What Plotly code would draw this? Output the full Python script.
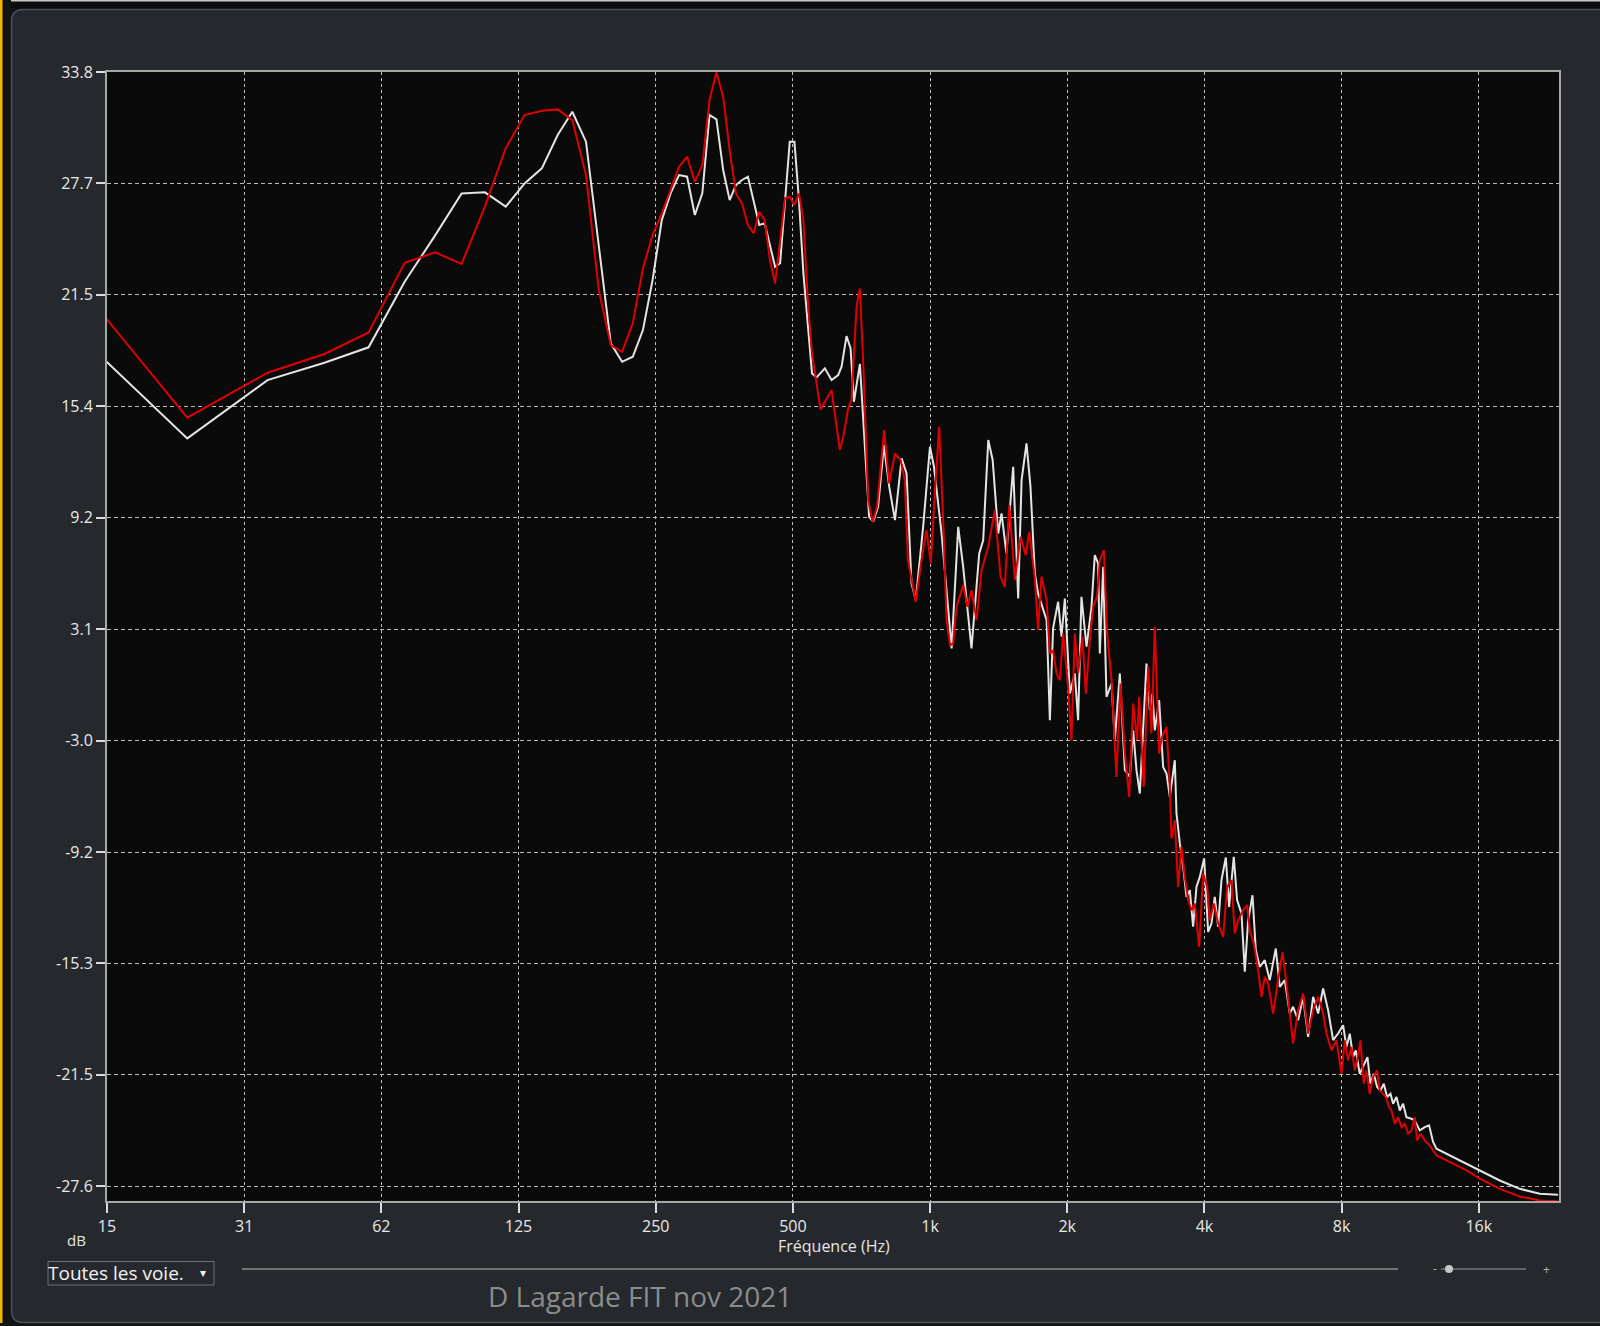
import plotly.graph_objects as go

# ---------------- data ----------------
low_freq = [11.72, 23.44, 35.16, 46.88, 58.59, 70.31, 82.03, 93.75, 105.47, 117.19,
            128.91, 140.63, 152.34, 164.06, 175.78, 187.5, 199.22, 210.94, 222.66, 234.38,
            246.09, 257.81, 269.53, 281.25, 292.97, 304.69, 316.41, 328.13, 339.84, 351.56,
            363.28, 375.0, 386.72, 398.44, 410.16, 421.88, 433.59, 445.31, 457.03, 468.75,
            480.47, 492.19, 503.91, 515.63, 527.34, 539.06, 550.78]

white_low_db = [20.8, 13.61, 16.82, 17.78, 18.63, 22.24, 24.8, 27.1, 27.17, 26.38,
                27.66, 28.49, 30.33, 31.61, 29.96, 24.17, 18.85, 17.83, 18.11, 19.58,
                22.34, 25.64, 27.11, 28.12, 28.03, 25.92, 27.11, 31.43, 31.19, 28.4,
                26.74, 27.57, 27.85, 28.03, 26.74, 25.37, 25.46, 24.17, 23.07, 23.26,
                26.56, 29.96, 29.96, 26.74, 22.7, 19.76, 17.19]

red_low_db = [24.0, 14.75, 17.23, 18.26, 19.45, 23.29, 23.86, 23.22, 26.38, 29.6,
              31.43, 31.67, 31.74, 31.15, 28.12, 21.78, 18.75, 18.38, 19.95, 22.98,
              24.82, 26.01, 27.3, 28.58, 29.13, 27.75, 28.67, 32.26, 33.78, 32.44,
              29.5, 27.11, 26.56, 25.37, 24.91, 26.1, 25.64, 23.44, 22.15, 24.36,
              26.84, 26.93, 26.47, 27.11, 25.64, 21.23, 18.29]

white_high_freq = [563.6, 587.6, 608, 628.6, 639.5, 655.6, 669.3, 680.6, 701.5, 713,
                   735, 750, 769, 792, 813.5, 837.6, 866, 888, 910.5, 930.3,
                   965.6, 999.5, 1020, 1060, 1087, 1115, 1153, 1182, 1233, 1282,
                   1308, 1342, 1372, 1411, 1435, 1471, 1522, 1561, 1588, 1628,
                   1661, 1698, 1726, 1771, 1802, 1832, 1862, 1910, 1943, 1976,
                   2027, 2078, 2113, 2149, 2205, 2261, 2299, 2338, 2358, 2398,
                   2439, 2502, 2544, 2609, 2676, 2744, 2791, 2838, 2886, 2985,
                   3036, 3077, 3113, 3182, 3247, 3303, 3359, 3444, 3474, 3533,
                   3593, 3654, 3716, 3778, 3843, 3908, 3995, 4076, 4145, 4215,
                   4287, 4360, 4457, 4532, 4640, 4719, 4824, 4906, 4989, 5100,
                   5186, 5292, 5427, 5566, 5737, 5855, 6004, 6158, 6262, 6423,
                   6587, 6756, 6929, 7106, 7288, 7474, 7665, 7861, 8062, 8199,
                   8338, 8480, 8595, 8770, 8919, 9117, 9256, 9413, 9573, 9736,
                   9902, 10070, 10241, 10380, 10556, 10735, 10917, 11102, 11386, 11579,
                   11876, 12179, 12448, 12703, 12920, 13590, 15035, 16082, 17791, 19683,
                   21776, 23888]

white_high_db = [16.97, 17.47, 16.83, 17.1, 17.56, 19.25, 18.57, 15.63, 17.71, 14.99,
                 9.29, 9.02, 9.84, 13.24, 10.95, 9.11, 12.51, 11.68, 5.62, 4.7,
                 8.74, 13.15, 12.05, 8.37, 5.07, 2.04, 8.74, 6.54, 2.04, 7.27,
                 8.0, 13.52, 12.42, 8.37, 9.48, 7.27, 12.05, 4.79, 11.31, 13.34,
                 10.95, 6.17, 5.07, 4.15, 3.6, -1.92, 3.14, 4.61, 2.68, 4.79,
                 -0.45, 0.66, -1.92, 4.88, 2.13, 4.33, 7.18, 6.72, 1.76, 6.54,
                 -0.63, 0.1, -3.02, 0.66, -4.67, -5.04, -2.47, -4.67, -5.96, 1.21,
                 -1.36, -0.45, -2.47, -0.81, -4.49, -4.86, -6.14, -4.12, -7.06, -8.71,
                 -10.0, -11.65, -11.28, -13.3, -11.1, -10.55, -9.54, -13.58, -13.12, -11.65,
                 -13.3, -10.73, -9.48, -12.2, -9.45, -11.83, -12.57, -15.78, -12.94, -11.56,
                 -14.59, -15.51, -15.14, -16.24, -14.5, -16.61, -16.24, -18.08, -17.71, -18.45,
                 -17.16, -19.37, -17.16, -18.08, -16.7, -17.9, -19.55, -19.18, -18.72, -19.93,
                 -19.19, -20.48, -20.11, -21.4, -21.03, -20.48, -21.95, -21.4, -22.13, -22.32,
                 -21.95, -22.68, -22.5, -23.05, -22.68, -23.42, -23.05, -23.79, -23.88, -23.97,
                 -24.52, -24.34, -24.24, -25.16, -25.53, -25.81, -26.36, -26.76, -27.28, -27.74,
                 -28.01, -28.07]

red_high_freq = [575, 608, 634, 645, 661, 672, 689.8, 701.5, 713, 731.6,
                 748, 765, 793, 813.5, 837.6, 861.6, 880.5, 894, 930.3, 957.8,
                 982, 1004, 1024.5, 1047, 1068.6, 1087, 1106, 1124, 1143, 1182,
                 1208, 1233, 1265, 1297, 1342, 1387, 1428, 1459, 1492, 1535,
                 1580, 1622, 1650, 1698, 1726, 1756, 1802, 1832, 1862, 1895,
                 1926, 1959, 2009, 2043, 2078, 2113, 2160, 2197, 2242, 2280,
                 2326, 2358, 2407, 2447, 2502, 2565, 2618, 2676, 2735, 2791,
                 2847, 2876, 2944, 3010, 3061, 3113, 3182, 3220, 3303, 3359,
                 3386, 3444, 3503, 3563, 3623, 3684, 3748, 3811, 3895, 3974,
                 4056, 4111, 4195, 4287, 4397, 4487, 4586, 4664, 4743, 4864,
                 4964, 5031, 5134, 5248, 5337, 5427, 5519, 5660, 5805, 5935,
                 6056, 6262, 6423, 6587, 6756, 6929, 7106, 7288, 7412, 7601,
                 7795, 7995, 8130, 8269, 8409, 8552, 8654, 8800, 8950, 9071,
                 9225, 9382, 9573, 9703, 9868, 10002, 10172, 10293, 10468, 10646,
                 10826, 11010, 11197, 11386, 11579, 11716, 11915, 12179, 12491, 12920,
                 13590, 15035, 16082, 17791, 19683, 21776, 23888]

red_high_db = [15.2, 16.27, 12.97, 13.7, 15.26, 15.72, 20.87, 21.88, 17.93, 10.21,
               9.02, 9.84, 14.07, 11.13, 12.78, 12.42, 11.31, 6.9, 4.61, 6.9,
               8.56, 6.72, 10.58, 14.25, 9.11, 3.6, 2.22, 2.31, 4.33, 5.53,
               4.33, 5.25, 3.6, 6.35, 7.64, 9.66, 5.99, 5.43, 9.94, 5.8,
               8.19, 7.18, 8.47, 5.9, 3.05, 5.99, 4.7, 1.76, 1.94, 0.66,
               0.29, 2.86, -0.08, -3.02, 2.86, 0.66, 2.68, -0.45, 2.49, 4.33,
               4.88, 6.9, 7.45, 2.86, 0.29, -5.04, 0.1, -3.75, -6.14, -1.0,
               -3.02, -0.63, -5.59, 1.02, -2.65, 3.23, -3.75, -2.93, -2.28, -5.59,
               -8.44, -7.42, -11.1, -8.89, -10.55, -11.83, -12.39, -12.02, -14.41, -10.36,
               -11.1, -12.94, -12.02, -13.12, -13.86, -11.1, -10.73, -13.67, -12.94, -12.39,
               -12.11, -13.49, -14.22, -15.69, -17.16, -16.06, -16.43, -18.08, -16.24, -14.68,
               -16.43, -19.73, -17.9, -16.98, -19.18, -17.9, -17.16, -18.08, -19.18, -20.1,
               -19.55, -21.39, -19.56, -20.66, -19.93, -21.21, -20.66, -19.56, -21.95, -21.21,
               -22.5, -21.58, -21.21, -22.32, -22.5, -22.68, -23.23, -23.42, -24.15, -23.79,
               -24.34, -24.15, -24.7, -24.52, -23.79, -25.07, -24.7, -25.07, -25.35, -25.9,
               -26.17, -26.72, -27.18, -27.74, -28.16, -28.38, -28.42]

x_tick_vals = [15.625, 31.25, 62.5, 125, 250, 500, 1000, 2000, 4000, 8000, 16000]
x_tick_text = ["15", "31", "62", "125", "250", "500", "1k", "2k", "4k", "8k", "16k"]
y_tick_vals = [33.8, 27.66, 21.52, 15.38, 9.24, 3.1, -3.04, -9.18, -15.32, -21.46, -27.6]
y_tick_text = ["33.8", "27.7", "21.5", "15.4", "9.2", "3.1", "-3.0", "-9.2", "-15.3", "-21.5", "-27.6"]

white_freq = low_freq + white_high_freq
white_db = white_low_db + white_high_db
red_freq = low_freq + red_high_freq
red_db = red_low_db + red_high_db

# ---------------- layout geometry ----------------
W, H = 1600, 1326
L, R, T, B = 107, 41, 72, 125
PW, PH = W - L - R, H - T - B


def px(x):
    return (x - L) / PW


def py(y):
    return 1 - (y - T) / PH


FONT = "Open Sans"

fig = go.Figure()
fig.add_trace(go.Scatter(x=white_freq, y=white_db, mode="lines",
                         line=dict(color="#e4e4e4", width=2), hoverinfo="skip"))
fig.add_trace(go.Scatter(x=red_freq, y=red_db, mode="lines",
                         line=dict(color="#e00000", width=2), hoverinfo="skip"))

shapes = []
# outer frame pieces
shapes.append(dict(type="rect", xref="paper", yref="paper", x0=px(0), x1=px(W), y0=py(0), y1=py(9),
                   fillcolor="#0c0c0d", line=dict(width=0), layer="above"))
shapes.append(dict(type="line", xref="paper", yref="paper", x0=px(0), x1=px(W), y0=py(0.8), y1=py(0.8),
                   line=dict(color="#c8c8c8", width=1.5), layer="above"))
shapes.append(dict(type="rect", xref="paper", yref="paper", x0=px(0), x1=px(11), y0=py(0), y1=py(H),
                   fillcolor="#111315", line=dict(width=0), layer="above"))
shapes.append(dict(type="rect", xref="paper", yref="paper", x0=px(0), x1=px(2.5), y0=py(0), y1=py(H),
                   fillcolor="#f2b300", line=dict(width=0), layer="above"))
shapes.append(dict(type="rect", xref="paper", yref="paper", x0=px(0), x1=px(W), y0=py(1323), y1=py(H),
                   fillcolor="#111315", line=dict(width=0), layer="above"))
# rounded corners fill
shapes.append(dict(type="path", xref="paper", yref="paper",
                   path=(f"M {px(10)},{py(8)} L {px(24)},{py(8)} L {px(23.5)},{py(9.5)} "
                         f"Q {px(11.5)},{py(9.5)} {px(11.5)},{py(21.5)} L {px(10)},{py(22)} Z"),
                   fillcolor="#111315", line=dict(width=0), layer="above"))
shapes.append(dict(type="path", xref="paper", yref="paper",
                   path=(f"M {px(10)},{py(1324)} L {px(24)},{py(1324)} L {px(23.5)},{py(1322.5)} "
                         f"Q {px(11.5)},{py(1322.5)} {px(11.5)},{py(1310.5)} L {px(10)},{py(1310)} Z"),
                   fillcolor="#111315", line=dict(width=0), layer="above"))
# panel border
shapes.append(dict(type="path", xref="paper", yref="paper",
                   path=(f"M {px(23.5)},{py(1322.5)} Q {px(11.5)},{py(1322.5)} {px(11.5)},{py(1310.5)} "
                         f"L {px(11.5)},{py(21.5)} Q {px(11.5)},{py(9.5)} {px(23.5)},{py(9.5)} L {px(W)},{py(9.5)}"),
                   line=dict(color="#4e5258", width=1.5), layer="above"))
shapes.append(dict(type="line", xref="paper", yref="paper", x0=px(23.5), x1=px(W), y0=py(1322.5), y1=py(1322.5),
                   line=dict(color="#4e5258", width=1.5), layer="above"))
# bottom controls
shapes.append(dict(type="rect", xref="paper", yref="paper", x0=px(48), x1=px(214), y0=py(1261.5), y1=py(1285),
                   line=dict(color="#6c6f73", width=1), fillcolor="rgba(0,0,0,0)", layer="above"))
shapes.append(dict(type="line", xref="paper", yref="paper", x0=px(242), x1=px(1398), y0=py(1269), y1=py(1269),
                   line=dict(color="#8a8c8f", width=1.5), layer="above"))
shapes.append(dict(type="line", xref="paper", yref="paper", x0=px(1441), x1=px(1526), y0=py(1269), y1=py(1269),
                   line=dict(color="#9a9c9f", width=1), layer="above"))
shapes.append(dict(type="circle", xref="paper", yref="paper", x0=px(1445), x1=px(1453), y0=py(1265), y1=py(1273),
                   fillcolor="#c8c8c8", line=dict(width=0), layer="above"))

annotations = [
    dict(text="dB", x=px(76), y=py(1240), xref="paper", yref="paper", showarrow=False,
         font=dict(family=FONT, size=15, color="#e6e6e6"), xanchor="center", yanchor="middle"),
    dict(text="Fréquence (Hz)", x=px(834), y=py(1246), xref="paper", yref="paper", showarrow=False,
         font=dict(family=FONT, size=16, color="#e6e6e6"), xanchor="center", yanchor="middle"),
    dict(text="Toutes les voie.", x=px(46), y=py(1273), xref="paper", yref="paper", showarrow=False,
         font=dict(family=FONT, size=19, color="#f2f2f2"), xanchor="left", yanchor="middle"),
    dict(text="▾", x=px(203), y=py(1273), xref="paper", yref="paper", showarrow=False,
         font=dict(family="DejaVu Sans", size=12, color="#f2f2f2"), xanchor="center", yanchor="middle"),
    dict(text="-", x=px(1435), y=py(1268), xref="paper", yref="paper", showarrow=False,
         font=dict(family=FONT, size=12, color="#b0b0b0"), xanchor="center", yanchor="middle"),
    dict(text="+", x=px(1546), y=py(1269), xref="paper", yref="paper", showarrow=False,
         font=dict(family=FONT, size=12, color="#b0b0b0"), xanchor="center", yanchor="middle"),
    dict(text="D Lagarde FIT nov 2021", x=px(640), y=py(1296), xref="paper", yref="paper", showarrow=False,
         font=dict(family=FONT, size=28, color="#8c8c8c"), xanchor="center", yanchor="middle"),
]

fig.update_layout(
    width=W, height=H, autosize=False,
    margin=dict(l=L, r=R, t=T, b=B, pad=0),
    paper_bgcolor="#25282c", plot_bgcolor="#0a0a0a",
    showlegend=False,
    shapes=shapes, annotations=annotations,
    font=dict(family=FONT, color="#e6e6e6"),
)
fig.update_xaxes(
    type="log", range=[1.19382, 4.380211],
    tickvals=x_tick_vals, ticktext=x_tick_text,
    tickfont=dict(family=FONT, size=16, color="#e8e8e8"),
    ticks="outside", ticklen=10, tickwidth=1.5, tickcolor="#dcdcdc",
    showgrid=True, gridcolor="#bcbcbc", gridwidth=1, griddash="3px,3px",
    showline=True, linecolor="#a6a6a6", linewidth=2, mirror=True, zeroline=False,
)
fig.update_yaxes(
    range=[-28.41, 33.8],
    tickvals=y_tick_vals, ticktext=y_tick_text,
    tickfont=dict(family=FONT, size=16, color="#e8e8e8"),
    ticks="outside", ticklen=9, tickwidth=1.5, tickcolor="#dcdcdc",
    showgrid=True, gridcolor="#bcbcbc", gridwidth=1, griddash="4px,3px",
    showline=True, linecolor="#a6a6a6", linewidth=2, mirror=True, zeroline=False,
)

fig.write_html("out.html", config={"displayModeBar": False},
               post_script="document.body.style.margin='0px';document.body.style.overflow='hidden';")
